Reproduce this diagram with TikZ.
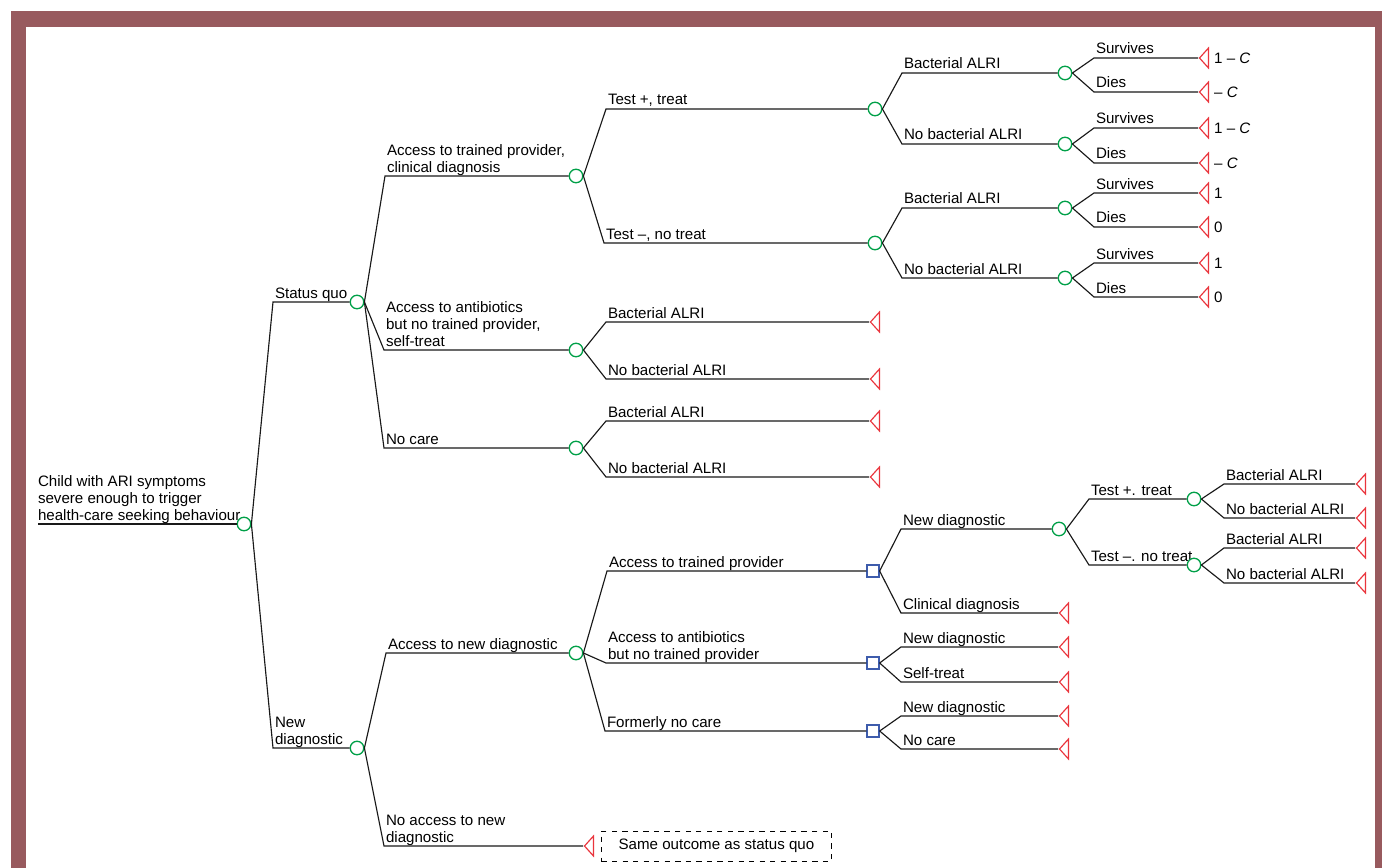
\documentclass[tikz,border=0pt]{standalone}
\usepackage{fontspec}
\setmainfont{Liberation Sans}
\usetikzlibrary{positioning,shapes.geometric}

\definecolor{framered}{RGB}{152,90,94}
\definecolor{chgreen}{RGB}{0,160,72}
\definecolor{decblue}{RGB}{62,92,172}
\definecolor{endred}{RGB}{234,52,60}

\tikzstyle{chance} = [circle, draw=chgreen, line width=0.75pt, fill=white, inner sep=0pt, minimum size=0.27cm]
\tikzstyle{decision} = [rectangle, draw=decblue, line width=0.75pt, fill=white, inner sep=0pt, minimum size=0.24cm]
\tikzstyle{outcome} = [isosceles triangle, isosceles triangle stretches, shape border rotate=180, draw=endred, line width=0.65pt, inner sep=0pt, minimum width=0.4cm, minimum height=0.18cm, anchor=apex]
\tikzstyle{lbl} = [anchor=south west, align=left, inner xsep=0.04cm, inner ysep=0.08cm, outer sep=0pt, text depth=0pt]
\tikzstyle{branch} = [line width=0.65pt, black!90]

\begin{document}
\begin{tikzpicture}[x=0.02cm, y=-0.02cm, font=\fontsize{8.6}{9.4}\selectfont]
\useasboundingbox (0,0) rectangle (1382,868);
\fill[framered] (11,11) rectangle (1382,868);
\fill[white] (26,27) rectangle (1375,868);

% root and first split
\node[lbl, inner xsep=0pt] (lchild) at (38,524) {Child with ARI symptoms\\severe enough to trigger\\health-care seeking behaviour};
\node[chance] (root) at (244,524) {};
\node[lbl] (lsq) at (273,302) {Status quo};
\node[chance] (sq) at (357,302) {};
\node[lbl] (lnd) at (273,748) {New\\diagnostic};
\node[chance] (nd) at (357,748) {};
\draw[branch] (lchild.south west) -- (root.west);
\draw[branch] (root.east) -- (lsq.south west) -- (sq.west);
\draw[branch] (root.east) -- (lnd.south west) -- (nd.west);

% status quo
\node[lbl] (ltp) at (385,176) {Access to trained provider,\\clinical diagnosis};
\node[chance] (tp) at (576,176) {};
\node[lbl] (lab) at (384,350) {Access to antibiotics\\but no trained provider,\\self-treat};
\node[chance] (ab) at (576,350) {};
\node[lbl] (lnc) at (384,448) {No care};
\node[chance] (nc) at (576,448) {};
\foreach \n in {tp,ab,nc}
  \draw[branch] (sq.east) -- (l\n.south west) -- (\n.west);

\node[lbl] (ltpos) at (606,109) {Test +, treat};
\node[chance] (tpos) at (875,109) {};
\node[lbl] (ltneg) at (604,243) {Test --, no treat};
\node[chance] (tneg) at (875,243) {};
\draw[branch] (tp.east) -- (ltpos.south west) -- (tpos.west);
\draw[branch] (tp.east) -- (ltneg.south west) -- (tneg.west);

\foreach \p/\b/\ya/\yb in {tpos/1/73/144, tneg/3/208/278}{
  \pgfmathtruncatemacro{\c}{\b+1}
  \node[lbl] (lb\b) at (902,\ya) {Bacterial ALRI};
  \node[chance] (b\b) at (1065,\ya) {};
  \node[lbl] (lb\c) at (902,\yb) {No bacterial ALRI};
  \node[chance] (b\c) at (1065,\yb) {};
  \draw[branch] (\p.east) -- (lb\b.south west) -- (b\b.west);
  \draw[branch] (\p.east) -- (lb\c.south west) -- (b\c.west);
}

% survives / dies
\foreach \y/\ys/\yd/\vs/\vd [count=\i] in {73/58/92/{1 -- \textit{C}}/{-- \textit{C}}, 144/128/163/{1 -- \textit{C}}/{-- \textit{C}}, 208/193/227/1/0, 278/263/297/1/0}{
  \node[lbl] (ls\i) at (1094,\ys) {Survives};
  \node[lbl] (ld\i) at (1094,\yd) {Dies};
  \node[outcome] (ts\i) at (1198,\ys) {};
  \node[outcome] (td\i) at (1198,\yd) {};
  \node[right=0.2cm of ts\i.apex] (vs\i) {\vs};
  \node[right=0.2cm of td\i.apex] (vd\i) {\vd};
  \draw[branch] (b\i.east) -- (ls\i.south west) -- (ts\i.apex);
  \draw[branch] (b\i.east) -- (ld\i.south west) -- (td\i.apex);
}

% new diagnostic
\node[lbl] (lan) at (386,653) {Access to new diagnostic};
\node[chance] (an) at (576,653) {};
\node[lbl] (lna) at (384,846) {No access to new\\diagnostic};
\node[outcome] (tna) at (583,846) {};
\node[draw, dashed, line width=0.55pt, minimum width=4.6cm, minimum height=0.6cm, right=0.36cm of tna.apex] (same) {Same outcome as status quo};
\draw[branch] (nd.east) -- (lan.south west) -- (an.west);
\draw[branch] (nd.east) -- (lna.south west) -- (tna.apex);

\node[lbl] (ld1) at (607,571) {Access to trained provider};
\node[decision] (d1) at (873,571) {};
\node[lbl] (ld2) at (606,663) {Access to antibiotics\\but no trained provider};
\node[decision] (d2) at (873,663) {};
\node[lbl] (ld3) at (605,731) {Formerly no care};
\node[decision] (d3) at (873,731) {};
\foreach \n in {d1,d2,d3}
  \draw[branch] (an.east) -- (l\n.south west) -- (\n.west);

\node[lbl] (lnew) at (901,529) {New diagnostic};
\node[chance] (n3) at (1059,529) {};
\node[lbl] (lcd) at (901,613) {Clinical diagnosis};
\node[outcome] (tcd) at (1058,613) {};
\draw[branch] (d1.east) -- (lnew.south west) -- (n3.west);
\draw[branch] (d1.east) -- (lcd.south west) -- (tcd.apex);

\foreach \d/\ya/\yb/\txt in {d2/647/682/Self-treat, d3/716/749/No care}{
  \node[lbl] (lnew\d) at (901,\ya) {New diagnostic};
  \node[lbl] (lalt\d) at (901,\yb) {\txt};
  \node[outcome] (tnew\d) at (1058,\ya) {};
  \node[outcome] (talt\d) at (1058,\yb) {};
  \draw[branch] (\d.east) -- (lnew\d.south west) -- (tnew\d.apex);
  \draw[branch] (\d.east) -- (lalt\d.south west) -- (talt\d.apex);
}

\node[lbl] (lr1) at (1089,499) {Test +. treat};
\node[chance] (r1) at (1194,499) {};
\node[lbl] (lr2) at (1089,565) {Test --. no treat};
\node[chance] (r2) at (1194,565) {};
\draw[branch] (n3.east) -- (lr1.south west) -- (r1.west);
\draw[branch] (n3.east) -- (lr2.south west) -- (r2.west);

% bacterial / no bacterial ends
\foreach \p/\x/\ya/\yb/\tx in {ab/606/322/379/869, nc/606/421/477/869, r1/1224/484/518/1355, r2/1224/548/583/1355}{
  \node[lbl] (lba\p) at (\x,\ya) {Bacterial ALRI};
  \node[lbl] (lnb\p) at (\x,\yb) {No bacterial ALRI};
  \node[outcome] (tba\p) at (\tx,\ya) {};
  \node[outcome] (tnb\p) at (\tx,\yb) {};
  \draw[branch] (\p.east) -- (lba\p.south west) -- (tba\p.apex);
  \draw[branch] (\p.east) -- (lnb\p.south west) -- (tnb\p.apex);
}
\end{tikzpicture}
\end{document}
